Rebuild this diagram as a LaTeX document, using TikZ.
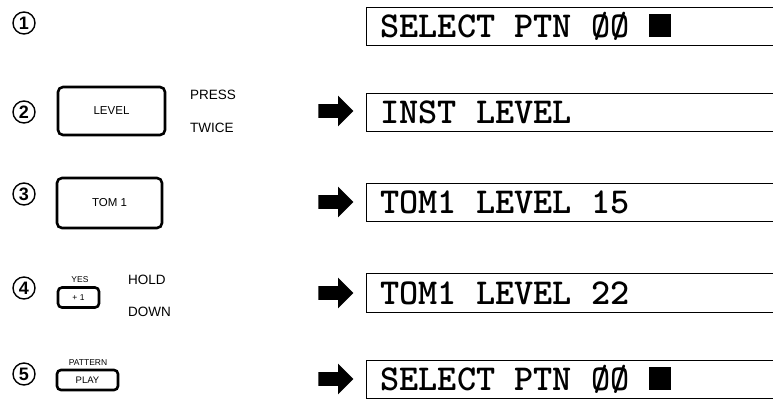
\documentclass[tikz,border=0pt]{standalone}
\usepackage{fontspec}
\setsansfont{Liberation Sans}
\usetikzlibrary{shapes.arrows,positioning}

\begin{document}
\begin{tikzpicture}[x=1pt,y=-1pt,
step num/.style={circle,draw,line width=1.4pt,minimum size=22pt,inner sep=0pt,font=\sffamily\bfseries\fontsize{18}{18}\selectfont},
key/.style={draw,rounded corners=5pt,line width=2.6pt,inner sep=0pt,font=\sffamily\fontsize{11.5}{11.5}\selectfont},
note/.style={font=\sffamily\fontsize{13.5}{13.5}\selectfont,anchor=west,inner sep=0pt},
tiny/.style={font=\sffamily\fontsize{8.5}{8.5}\selectfont,inner sep=0pt},
lcd/.style={font=\ttfamily\bfseries\fontsize{36.5}{36.5}\selectfont,anchor=base west,inner sep=0pt},
go/.style={single arrow,fill=black,inner sep=6.5pt,minimum height=35pt,minimum width=30pt,single arrow head extend=8.5pt,single arrow tip angle=90}]
\useasboundingbox (0,0) rectangle (773,400);
\begin{scope}
\node[step num] (n1) at (24,23) {1};
\node[step num] (n2) at (24,112) {2};
\node[step num] (n3) at (24,194) {3};
\node[step num] (n4) at (24,288) {4};
\node[step num] (n5) at (24,374) {5};
\end{scope}
\begin{scope}
\node[key,minimum width=107pt,minimum height=48pt] (level) at (111.5,111) {LEVEL};
\node[note] (press) at (190,95) {PRESS};
\node[note] (twice) at (190,128) {TWICE};
\node[key,minimum width=105pt,minimum height=50pt] (tom) at (109.5,203) {TOM 1};
\node[tiny] (yes) at (80,280) {YES};
\node[key,rounded corners=4pt,minimum width=41pt,minimum height=20pt,font=\sffamily\fontsize{8.5}{8.5}\selectfont] (inc) at (78.5,297.5) {+ 1};
\node[note] (hold) at (128,280) {HOLD};
\node[note] (down) at (128,312) {DOWN};
\node[tiny] (ptn) at (88,363) {PATTERN};
\node[key,rounded corners=4pt,minimum width=61pt,minimum height=20pt,font=\sffamily\fontsize{9.5}{9.5}\selectfont] (play) at (87.5,380) {PLAY};
\end{scope}
\begin{scope}[line width=0.9pt]
\draw (773,7) -| (366,45) -- (773,45);
\draw (773,93) -| (366,131) -- (773,131);
\draw (773,183) -| (366,221) -- (773,221);
\draw (773,273) -| (366,312) -- (773,312);
\draw (773,360) -| (366,398) -- (773,398);
\node[lcd] (d1) at (380,37) {SELECT PTN ØØ \rule{22pt}{23pt}};
\node[lcd] (d2) at (380,123) {INST LEVEL};
\node[lcd] (d3) at (380,213) {TOM1 LEVEL 15};
\node[lcd] (d4) at (380,304) {TOM1 LEVEL 22};
\node[lcd] (d5) at (380,390) {SELECT PTN ØØ \rule{22pt}{23pt}};
\node[go] (a2) at (332.5,111) {};
\node[go] (a3) at (332.5,202) {};
\node[go] (a4) at (332.5,293) {};
\node[go] (a5) at (332.5,379) {};
\end{scope}
\end{tikzpicture}
\end{document}
